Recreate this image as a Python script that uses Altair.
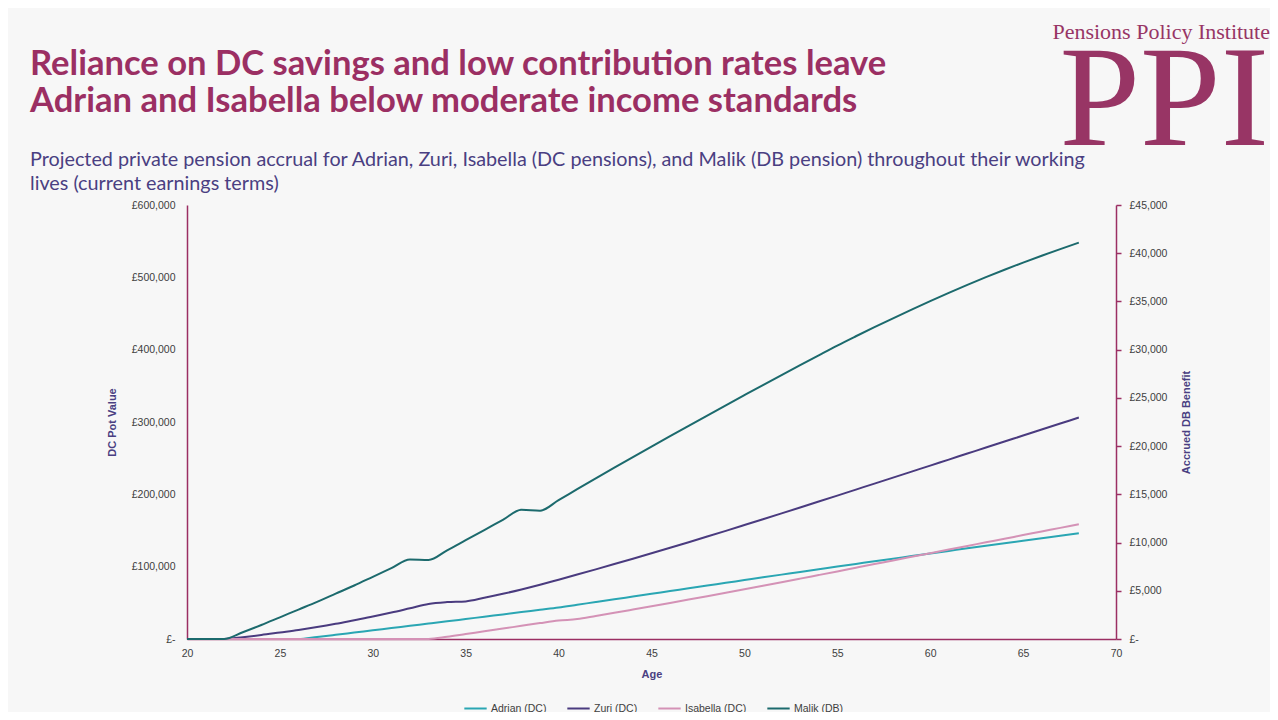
import altair as alt
import pandas as pd

ages = list(range(20, 69))

adrian = [0, 0, 0, 0, 0, 0, 0, 2800, 5800, 8900, 12000, 15100, 18200, 21300, 24400,
          27600, 30800, 34000, 37200, 40400, 43600, 47350, 51100, 54850, 58650, 62450,
          66250, 70050, 73850, 77650, 81450, 85250, 89000, 92750, 96450, 100150, 103800,
          107450, 111050, 114650, 118250, 121800, 125350, 128850, 132350, 135850, 139300,
          142750, 146150]
zuri = [0, 0, 0, 2500, 5500, 9000, 12500, 16500, 21000, 26000, 31000, 36500, 42500, 48500,
        51000, 52000, 57000, 62500, 68500, 75000, 82000, 89100, 96300, 103600, 111000,
        118500, 126100, 133800, 141600, 149500, 157500, 165550, 173650, 181800, 190000,
        198250, 206550, 214850, 223150, 231450, 239750, 248050, 256350, 264650, 272950,
        281250, 289550, 297850, 306150]
isabella = [0, 0, 0, 0, 0, 0, 0, 0, 0, 0, 0, 0, 0, 0, 3000, 6800, 10600, 14400, 18200,
            22000, 25500, 27500, 31800, 36200, 40700, 45250, 49850, 54500, 59200, 63950,
            68750, 73600, 78500, 83450, 88450, 93450, 98500, 103550, 108650, 113650,
            118650, 123650, 128650, 133650, 138650, 143650, 148650, 153650, 158650]
malik = [0, 0, 0, 700, 1450, 2250, 3050, 3850, 4700, 5550, 6450, 7350, 8250, 8200, 9200,
         10250, 11300, 12350, 13400, 13300, 14400, 15530, 16650, 17760, 18860, 19950,
         21030, 22100, 23165, 24225, 25280, 26330, 27370, 28400, 29420, 30430, 31390,
         32330, 33250, 34150, 35030, 35890, 36720, 37520, 38290, 39030, 39740, 40430, 41100]

series_names = ["Adrian (DC)", "Zuri (DC)", "Isabella (DC)", "Malik (DB)"]
series_colors = ["#2aa6b3", "#4a3b7f", "#d492b6", "#1c6a6d"]

left_y_ticks = [0, 100000, 200000, 300000, 400000, 500000, 600000]
right_y_ticks = [0, 5000, 10000, 15000, 20000, 25000, 30000, 35000, 40000, 45000]
x_ticks = [20, 25, 30, 35, 40, 45, 50, 55, 60, 65, 70]

title_lines = ["Reliance on DC savings and low contribution rates leave",
               "Adrian and Isabella below moderate income standards"]
subtitle_lines = ["Projected private pension accrual for Adrian, Zuri, Isabella (DC pensions), and Malik (DB pension) throughout their working",
                  "lives (current earnings terms)"]
logo_small = "Pensions Policy Institute"
logo_big = "PPI"

rows = []
for name, vals in zip(series_names[:3], [adrian, zuri, isabella]):
    for a, v in zip(ages, vals):
        rows.append({"age": a, "value": v, "series": name})
dc_df = pd.DataFrame(rows)
db_df = pd.DataFrame({"age": ages, "value": malik, "series": series_names[3]})

W, H = 929, 434
MAG = "#9b2f63"
PURPLE = "#4a3f82"
LBL = "#404040"
FONT = "Liberation Sans"
TFONT = "Lato"

money = "datum.value == 0 ? '£-' : '£' + format(datum.value, ',')"

color = alt.Color("series:N",
                  scale=alt.Scale(domain=series_names, range=series_colors),
                  legend=alt.Legend(title=None, orient="none", direction="horizontal",
                                    legendX=276, legendY=491, columns=4,
                                    symbolType="stroke", symbolSize=500,
                                    symbolStrokeWidth=2, labelFontSize=10.5,
                                    labelColor=LBL, labelFont=FONT, labelOffset=3,
                                    columnPadding=16, padding=0))

xenc = alt.X("age:Q", scale=alt.Scale(domain=[20, 70], nice=False),
             axis=alt.Axis(values=x_ticks, title="Age", ticks=False, domainColor=MAG,
                           domainWidth=1.5, labelColor=LBL, labelFontSize=10.5,
                           labelFont=FONT, labelPadding=9, labelFlush=False,
                           titleColor=PURPLE, titleFont=FONT, titleFontSize=11,
                           titleFontWeight="bold", titlePadding=10, grid=False))

dc = alt.Chart(dc_df).mark_line(strokeWidth=2, interpolate="monotone").encode(
    x=xenc,
    y=alt.Y("value:Q", scale=alt.Scale(domain=[0, 600000], nice=False),
            axis=alt.Axis(orient="left", values=left_y_ticks, labelExpr=money,
                          title="DC Pot Value", ticks=False, domainColor=MAG,
                          domainWidth=1.5, labelColor=LBL, labelFontSize=10.5,
                          labelFont=FONT, labelPadding=12, titleColor=PURPLE,
                          titleFont=FONT, titleFontSize=11, titleFontWeight="bold",
                          titlePadding=14, grid=False)),
    color=color,
    order=alt.Order("age:Q"),
)

db = alt.Chart(db_df).mark_line(strokeWidth=2, interpolate="monotone").encode(
    x=alt.X("age:Q", scale=alt.Scale(domain=[20, 70], nice=False)),
    y=alt.Y("value:Q", scale=alt.Scale(domain=[0, 45000], nice=False),
            axis=alt.Axis(orient="right", values=right_y_ticks, labelExpr=money,
                          title="Accrued DB Benefit", ticks=True, tickSize=5,
                          tickColor=MAG, tickWidth=1.5, domainColor=MAG,
                          domainWidth=1.5, labelColor=LBL, labelFontSize=10.5,
                          labelFont=FONT, labelPadding=8, titleColor=PURPLE,
                          titleFont=FONT, titleFontSize=11, titleFontWeight="bold",
                          titlePadding=25, titleAngle=-90, grid=False)),
    color=color,
)


def text_layer(txt, x, y, size, col, weight="normal", font=FONT, align="left"):
    return alt.Chart(pd.DataFrame({"t": [txt]})).mark_text(
        align=align, baseline="alphabetic", fontSize=size, color=col,
        fontWeight=weight, font=font
    ).encode(text="t:N", x=alt.value(x), y=alt.value(y))


texts = [
    text_layer(title_lines[0], 30 - 187, 75 - 205, 34.6, MAG, "bold", TFONT),
    text_layer(title_lines[1], 30 - 187, 112 - 205, 34.6, MAG, "bold", TFONT),
    text_layer(subtitle_lines[0], 30 - 187, 166 - 205, 19.8, PURPLE, "normal", TFONT),
    text_layer(subtitle_lines[1], 30 - 187, 190 - 205, 19.8, PURPLE, "normal", TFONT),
    text_layer(logo_small, 1270 - 187, 39 - 205, 22, "#983565", "normal", "Liberation Serif", "right"),
    text_layer(logo_big, 1269 - 187, 145 - 205, 145, "#983565", "normal", "Liberation Serif", "right"),
]

chart = alt.layer(dc, db, *texts).resolve_scale(y="independent").properties(
    width=W, height=H,
    background="#f7f7f7",
    padding={"left": 179, "top": 197, "right": 154, "bottom": 73},
    autosize=alt.AutoSizeParams(type="none"),
).configure_view(strokeWidth=0)

chart.save("out.html", embed_options={"renderer": "svg", "actions": False})
